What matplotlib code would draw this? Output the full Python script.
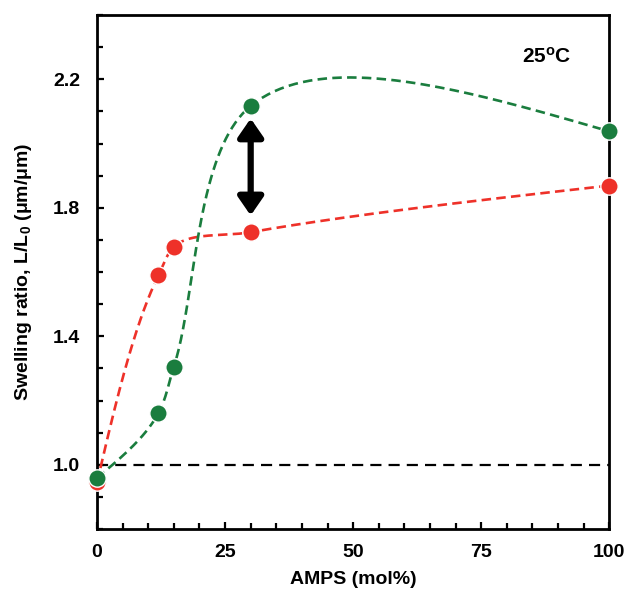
import numpy as np
import matplotlib
matplotlib.use("Agg")
import matplotlib.pyplot as plt
from matplotlib.ticker import MultipleLocator

# ---- data ----
amps = [0, 12, 15, 30, 100]
green_vals = [0.959, 1.161, 1.305, 2.117, 2.038]
red_vals = [0.945, 1.590, 1.678, 1.724, 1.869]
x_ticks = [0, 25, 50, 75, 100]
y_ticks = [1.0, 1.4, 1.8, 2.2]
arrow_x = 30
arrow_top = 2.078
arrow_bottom = 1.776
ref_level = 1.0
label_temp = r"25$^{\mathbf{o}}$C"

GREEN = "#1a7d3e"
RED = "#ee3129"

plt.rcParams["font.family"] = ["Liberation Sans", "DejaVu Sans"]
plt.rcParams["font.weight"] = "bold"
plt.rcParams["mathtext.fontset"] = "custom"
plt.rcParams["mathtext.rm"] = "Liberation Sans:bold"
plt.rcParams["mathtext.bf"] = "Liberation Sans:bold"
plt.rcParams["mathtext.it"] = "Liberation Sans:bold"

fig = plt.figure(figsize=(6.3, 5.94), dpi=100)
ax = fig.add_axes([0.154, 0.1094, 0.813, 0.8653])
ax.set_xlim(0, 100)
ax.set_ylim(0.8, 2.4)


def smooth(x, y, ax, alpha=0.85, n=80):
    """Catmull-Rom spline in display space with natural end segments."""
    P = ax.transData.transform(np.column_stack([x, y]))
    m = len(P)
    d = np.linalg.norm(np.diff(P, axis=0), axis=1) ** alpha
    t = np.concatenate([[0], np.cumsum(d)])
    T = np.zeros_like(P)
    for i in range(1, m - 1):
        T[i] = ((P[i] - P[i - 1]) / (t[i] - t[i - 1])
                - (P[i + 1] - P[i - 1]) / (t[i + 1] - t[i - 1])
                + (P[i + 1] - P[i]) / (t[i + 1] - t[i]))
    out = []
    for i in range(m - 1):
        dt = t[i + 1] - t[i]
        c1 = P[i] + T[i] * dt / 3 if i > 0 else None
        c2 = P[i + 1] - T[i + 1] * dt / 3 if i + 1 < m - 1 else None
        if c1 is None:
            c1 = (P[i] + c2) / 2
        if c2 is None:
            c2 = (P[i + 1] + c1) / 2
        s = np.linspace(0, 1, n)[:, None]
        seg = ((1 - s) ** 3 * P[i] + 3 * (1 - s) ** 2 * s * c1
               + 3 * (1 - s) * s ** 2 * c2 + s ** 3 * P[i + 1])
        out.append(seg if i == 0 else seg[1:])
    r = ax.transData.inverted().transform(np.vstack(out))
    return r[:, 0], r[:, 1]


# reference line
ax.axhline(ref_level, color="black", lw=1.6, dashes=(5, 3.2), zorder=1)

for vals, col in [(red_vals, RED), (green_vals, GREEN)]:
    sx, sy = smooth(amps, vals, ax)
    ax.plot(sx, sy, color=col, lw=1.9, dashes=(3.6, 2.0), zorder=2)
    ax.plot(amps, vals, "o", color=col, ms=12.5, mec="white", mew=1.0,
            clip_on=False, zorder=4)

# double arrow
ax.annotate("", xy=(arrow_x, arrow_top), xytext=(arrow_x, arrow_bottom),
            arrowprops=dict(arrowstyle="<|-|>,head_length=0.55,head_width=0.38",
                            color="black", lw=4.5, mutation_scale=20,
                            shrinkA=0, shrinkB=0), zorder=3)

ax.text(83, 2.271, label_temp, fontsize=15, fontweight="bold", va="center", ha="left")

ax.set_xticks(x_ticks)
ax.set_yticks(y_ticks)
ax.set_yticklabels([f"{v:.1f}" for v in y_ticks])
ax.xaxis.set_minor_locator(MultipleLocator(5))
ax.yaxis.set_minor_locator(MultipleLocator(0.1))
ax.tick_params(which="both", direction="in", width=1.6, top=False, right=False,
               labelsize=14)
ax.tick_params(which="major", length=5)
ax.tick_params(which="minor", length=4.5)
ax.tick_params(axis="y", pad=12)
ax.tick_params(axis="x", pad=11)
for s in ax.spines.values():
    s.set_linewidth(2.0)

ax.set_xlabel("AMPS (mol%)", fontsize=14, fontweight="bold", labelpad=7)
ax.set_ylabel(r"Swelling ratio, L/L$_{\mathbf{0}}$ (μm/μm)", fontsize=14,
              fontweight="bold", labelpad=14)

fig.savefig("out.png", dpi=100)
